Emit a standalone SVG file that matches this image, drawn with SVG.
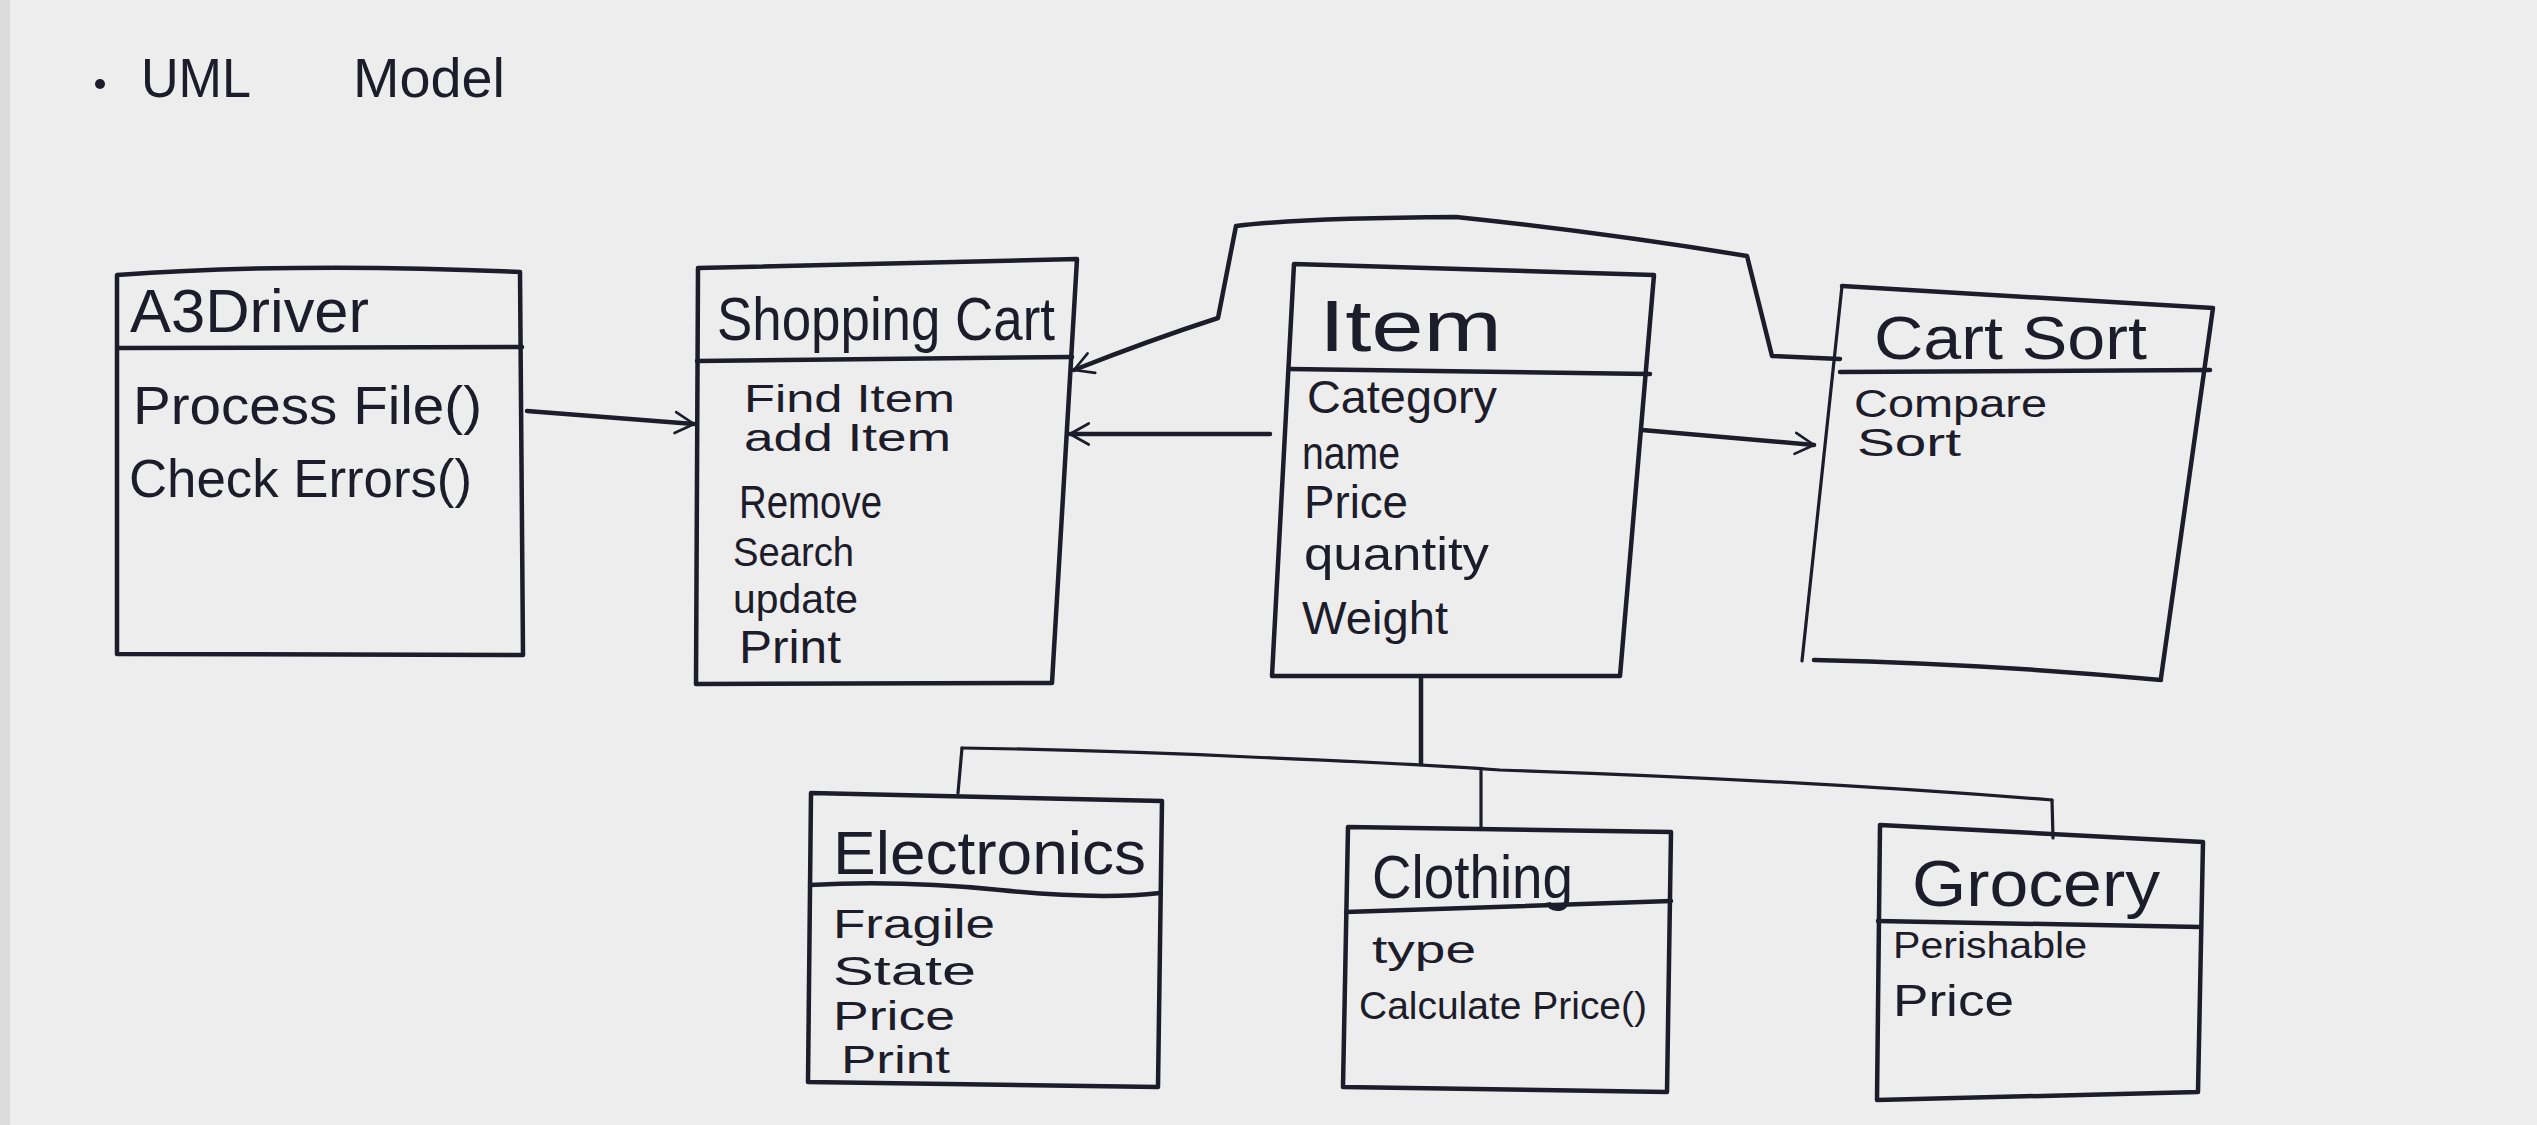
<svg xmlns="http://www.w3.org/2000/svg" width="2537" height="1125" viewBox="0 0 2537 1125">
<style>
.ink{fill:none;stroke:#1c1c2a;stroke-width:4.5;stroke-linecap:round;stroke-linejoin:round}
.thin{fill:none;stroke:#1c1c2a;stroke-width:3.2;stroke-linecap:round;stroke-linejoin:round}
text{fill:#1c1c2a;font-family:"Liberation Sans Narrow","Liberation Sans",sans-serif}
.t{font-size:62px}
.m{font-size:46px}
.e{font-size:41px}
.s{font-size:38px}
</style>
<defs>
<marker id="arr" viewBox="0 0 12 12" refX="11" refY="6" markerWidth="9" markerHeight="9" markerUnits="userSpaceOnUse" orient="auto" overflow="visible">
<path d="M-14,-8 L11,6 L-14,20" fill="none" stroke="#1c1c2a" stroke-width="3.5" stroke-linecap="round" stroke-linejoin="round"/>
</marker>
</defs>
<rect width="2537" height="1125" fill="#ededed"/>
<rect x="0" y="0" width="10" height="1125" fill="#dcdcdc"/>

<g id="title">
<circle cx="100" cy="84" r="5" fill="#1c1c2a"/>
<text x="141" y="97" font-size="56" textLength="110" lengthAdjust="spacingAndGlyphs">UML</text>
<text x="353" y="97" font-size="56" textLength="152" lengthAdjust="spacingAndGlyphs">Model</text>
</g>

<g id="A3Driver">
<path class="ink" d="M117,275 Q300,262 520,272 L523,655 L117,654 Z"/>
<path class="ink" d="M118,348 L522,347"/>
<text class="t" x="130" y="332" textLength="239" lengthAdjust="spacingAndGlyphs">A3Driver</text>
<text x="133" y="424" font-size="54" textLength="349" lengthAdjust="spacingAndGlyphs">Process File()</text>
<text x="129" y="497" font-size="54" textLength="343" lengthAdjust="spacingAndGlyphs">Check Errors()</text>
</g>

<g id="ShoppingCart">
<path class="ink" d="M698,268 L1077,259 L1052,683 L696,684 Z"/>
<path class="ink" d="M697,361 L1072,357"/>
<text class="t" x="717" y="340" textLength="338" lengthAdjust="spacingAndGlyphs">Shopping Cart</text>
<text class="s" x="744" y="412" textLength="211" lengthAdjust="spacingAndGlyphs">Find Item</text>
<text class="s" x="744" y="451" textLength="207" lengthAdjust="spacingAndGlyphs">add Item</text>
<text class="m" x="739" y="518" textLength="143" lengthAdjust="spacingAndGlyphs">Remove</text>
<text class="e" x="733" y="566" textLength="121" lengthAdjust="spacingAndGlyphs">Search</text>
<text class="e" x="733" y="613" textLength="125" lengthAdjust="spacingAndGlyphs">update</text>
<text class="m" x="739" y="663" textLength="102" lengthAdjust="spacingAndGlyphs">Print</text>
</g>

<g id="Item">
<path class="ink" d="M1294,264 L1654,275 L1620,676 L1272,676 Z"/>
<path class="ink" d="M1289,369 L1650,374"/>
<text x="1319" y="351" font-size="72" textLength="183" lengthAdjust="spacingAndGlyphs">Item</text>
<text class="m" x="1307" y="413" textLength="190" lengthAdjust="spacingAndGlyphs">Category</text>
<text class="m" x="1302" y="469" textLength="98" lengthAdjust="spacingAndGlyphs">name</text>
<text class="m" x="1304" y="518" textLength="104" lengthAdjust="spacingAndGlyphs">Price</text>
<text class="m" x="1304" y="570" textLength="185" lengthAdjust="spacingAndGlyphs">quantity</text>
<text class="m" x="1302" y="634" textLength="146" lengthAdjust="spacingAndGlyphs">Weight</text>
</g>

<g id="CartSort">
<path class="ink" d="M1842,286 L2213,308 L2161,678"/>
<path class="thin" d="M1842,286 L1802,661"/>
<path class="ink" d="M1814,660 Q1990,664 2161,680"/>
<path class="ink" d="M1840,372 L2210,370"/>
<text class="t" x="1874" y="359" textLength="273" lengthAdjust="spacingAndGlyphs">Cart Sort</text>
<text class="s" x="1854" y="417" textLength="193" lengthAdjust="spacingAndGlyphs">Compare</text>
<text class="s" x="1857" y="456" textLength="104" lengthAdjust="spacingAndGlyphs">Sort</text>
</g>

<g id="Electronics">
<path class="ink" d="M811,793 L1162,801 L1158,1087 L808,1082 Z"/>
<path class="ink" d="M810,885 Q900,880 1000,890 T1160,893"/>
<text class="t" x="833" y="874" textLength="313" lengthAdjust="spacingAndGlyphs">Electronics</text>
<text class="e" x="833" y="938" textLength="162" lengthAdjust="spacingAndGlyphs">Fragile</text>
<text class="e" x="833" y="985" textLength="143" lengthAdjust="spacingAndGlyphs">State</text>
<text class="e" x="833" y="1030" textLength="122" lengthAdjust="spacingAndGlyphs">Price</text>
<text class="s" x="841" y="1073" textLength="109" lengthAdjust="spacingAndGlyphs">Print</text>
</g>

<g id="Clothing">
<path class="ink" d="M1348,827 L1671,832 L1667,1092 L1343,1087 Z"/>
<path class="ink" d="M1346,912 L1671,901"/>
<text class="t" x="1372" y="898" textLength="201" lengthAdjust="spacingAndGlyphs">Clothing</text>
<text class="s" x="1372" y="963" textLength="104" lengthAdjust="spacingAndGlyphs">type</text>
<text x="1359" y="1019" font-size="38" textLength="288" lengthAdjust="spacingAndGlyphs">Calculate Price()</text>
</g>

<g id="Grocery">
<path class="ink" d="M1880,825 L2203,842 L2198,1092 L1877,1100 Z"/>
<path class="ink" d="M1878,921 L2200,927"/>
<text x="1912" y="906" font-size="64" textLength="248" lengthAdjust="spacingAndGlyphs">Grocery</text>
<text x="1893" y="958" font-size="36" textLength="194" lengthAdjust="spacingAndGlyphs">Perishable</text>
<text x="1893" y="1016" font-size="44" textLength="121" lengthAdjust="spacingAndGlyphs">Price</text>
</g>

<g id="connectors">
<path class="ink" d="M527,411 L694,424" marker-end="url(#arr)"/>
<path class="ink" d="M1270,434 L1070,434" marker-end="url(#arr)"/>
<path class="ink" d="M1642,430 L1814,445" marker-end="url(#arr)"/>
<path class="ink" d="M1840,359 L1772,356 L1747,256 Q1600,232 1456,217 Q1300,218 1236,226 L1218,318 Q1150,340 1074,370" marker-end="url(#arr)"/>
<path class="ink" d="M1421,678 L1421,764"/>
<path class="thin" d="M962,748 Q1100,750 1250,757 Q1421,764 1500,770 Q1800,780 2052,800"/>
<path class="thin" d="M962,748 L958,793"/>
<path class="thin" d="M1481,771 L1481,828"/>
<path class="thin" d="M2052,800 L2053,838"/>
</g>
</svg>
